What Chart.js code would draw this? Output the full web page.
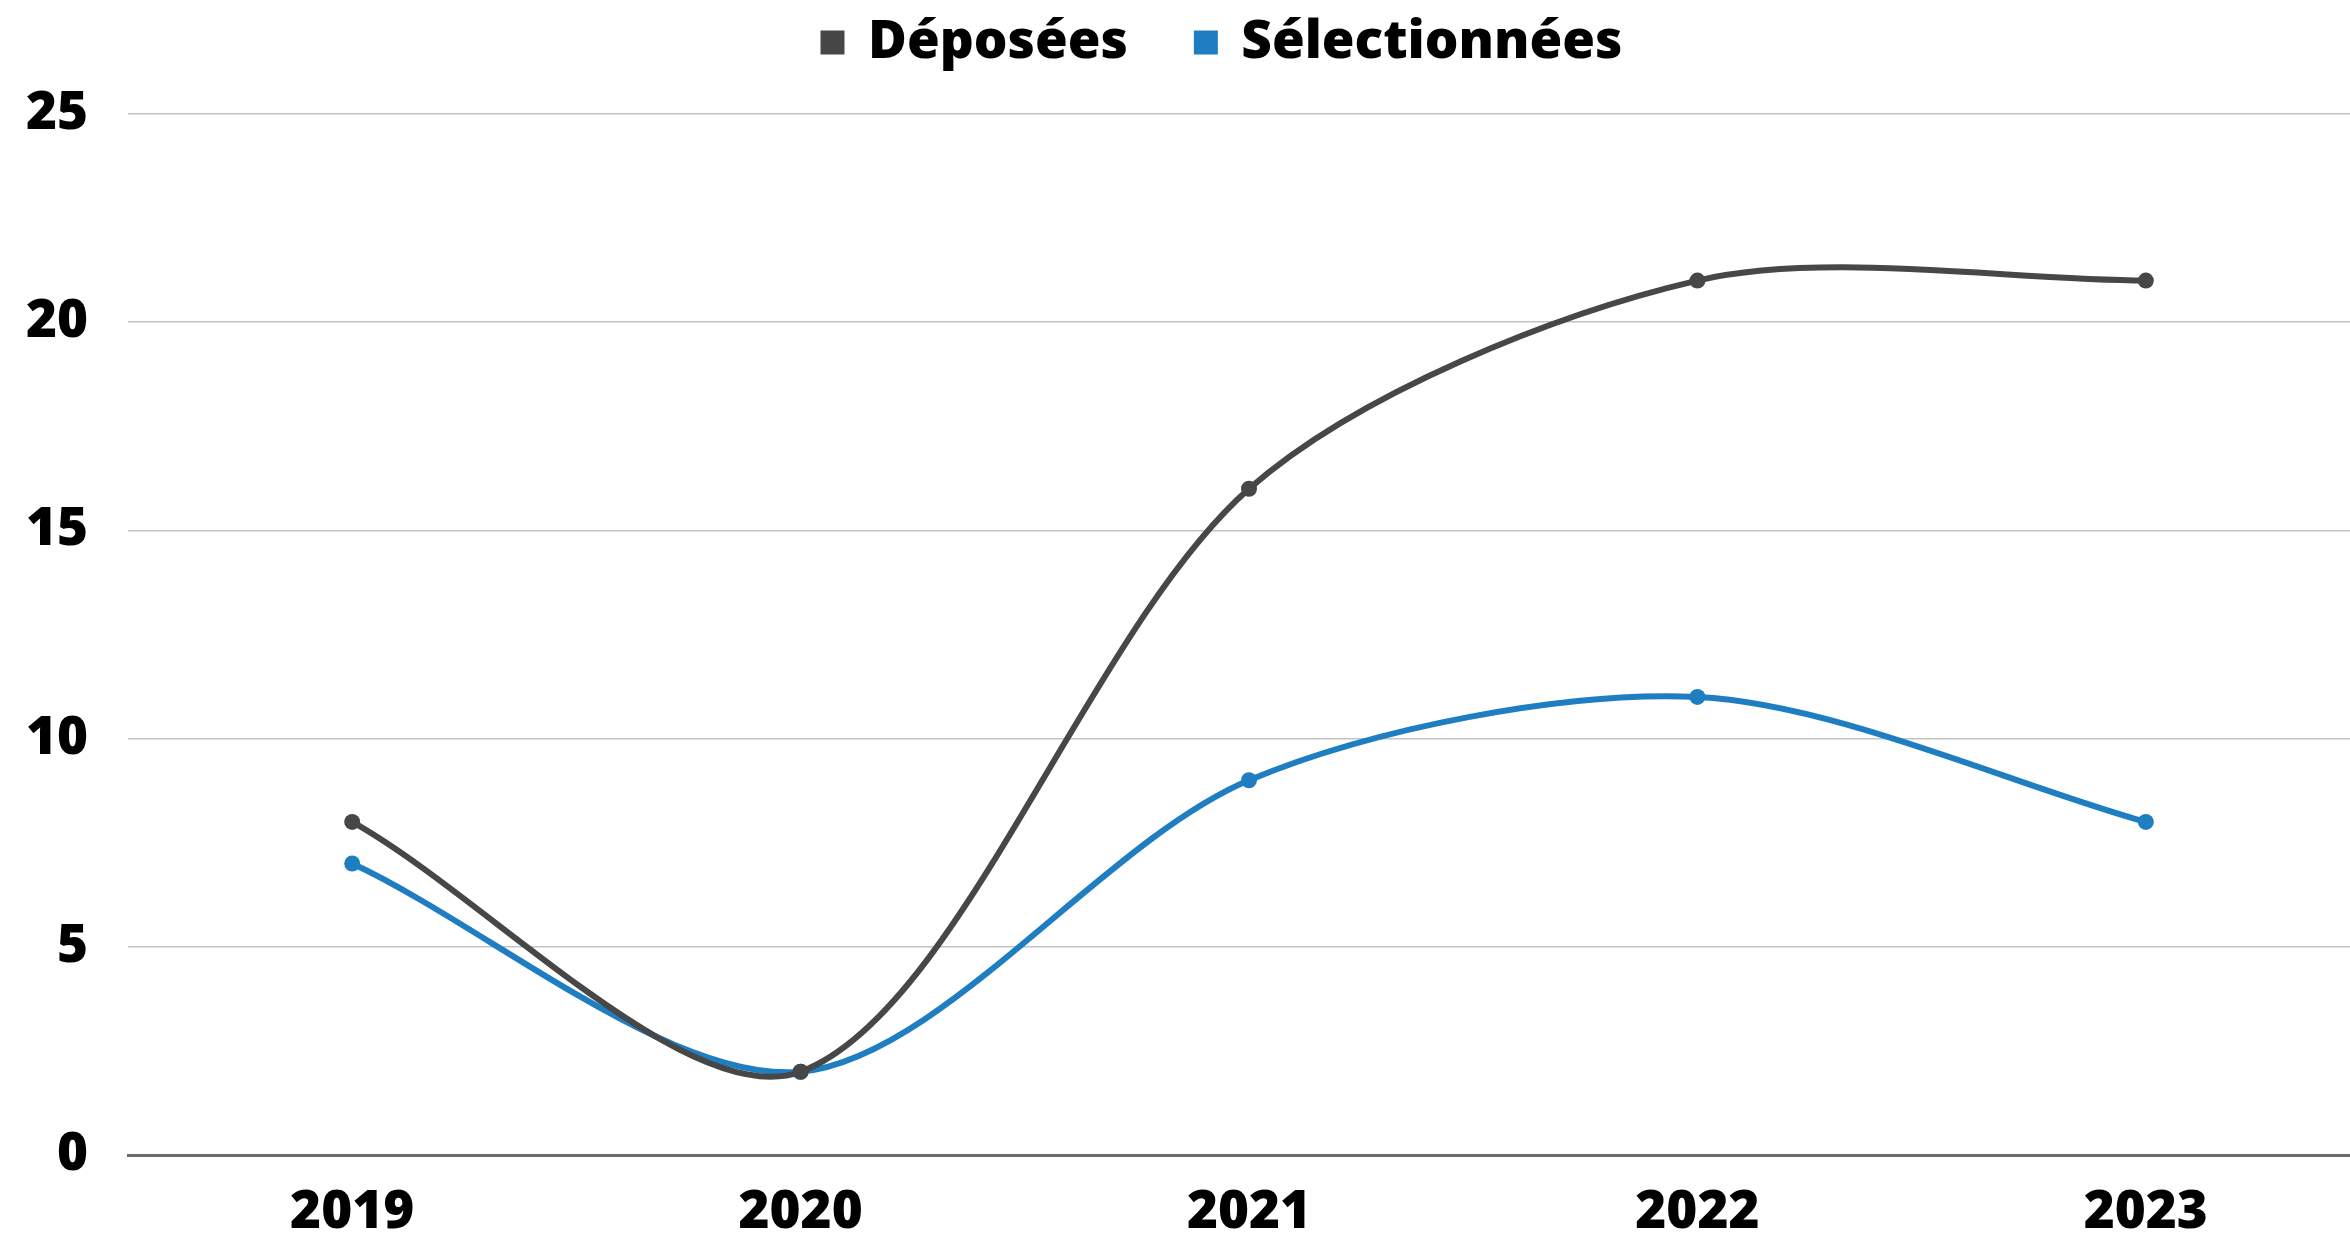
<!DOCTYPE html>
<html>
<head>
<meta charset="utf-8">
<script src="https://cdn.jsdelivr.net/npm/chart.js@4.4.1/dist/chart.umd.min.js"></script>
<style>
  html, body { margin: 0; padding: 0; background: #fff; overflow: hidden; }
  #wrap { position: absolute; left: 0; top: 0; width: 2446px; height: 1235px; }
</style>
</head>
<body>
<div id="wrap"><canvas id="graphique"></canvas></div>
<script>
const annees = ['2019', '2020', '2021', '2022', '2023'];
const deposees = [8, 2, 16, 21, 21];
const selectionnees = [7, 2, 9, 11, 8];
const ticksY = [0, 5, 10, 15, 20, 25];

const GRIS = '#474747';
const BLEU = '#1f7ec2';
const police = { family: '"Open Sans", "Noto Sans", sans-serif', weight: 800, size: 53 };

// espace supplémentaire sous la légende (comme dans l'original)
const espaceLegende = {
  id: 'espaceLegende',
  afterInit(chart) {
    const legende = chart.legend;
    if (!legende) return;
    const fitOrig = legende.fit;
    legende.fit = function() {
      fitOrig.call(this);
      this.height += 35;
    };
  }
};

const ctx = document.getElementById('graphique').getContext('2d');
new Chart(ctx, {
  type: 'line',
  plugins: [espaceLegende],
  data: {
    labels: annees,
    datasets: [
      {
        label: 'Déposées',
        data: deposees,
        borderColor: GRIS,
        backgroundColor: GRIS,
        borderWidth: 6,
        pointRadius: 8,
        pointBorderWidth: 0,
        tension: 0.3
      },
      {
        label: 'Sélectionnées',
        data: selectionnees,
        borderColor: BLEU,
        backgroundColor: BLEU,
        borderWidth: 6,
        pointRadius: 8,
        pointBorderWidth: 0,
        tension: 0.3
      }
    ]
  },
  options: {
    responsive: true,
    maintainAspectRatio: false,
    animation: false,
    layout: { padding: { top: -53 } },
    plugins: {
      legend: {
        position: 'top',
        labels: {
          color: '#000',
          font: police,
          boxWidth: 18,
          boxHeight: 18,
          padding: 69
        }
      },
      tooltip: { enabled: false }
    },
    scales: {
      x: {
        offset: true,
        grid: { display: false },
        border: { display: true, color: '#6b6b6b', width: 3 },
        ticks: { color: '#000', font: police, padding: 18 },
        afterFit: s => { s.height = 80; }
      },
      y: {
        min: 0,
        max: 25,
        afterBuildTicks: s => { s.ticks = ticksY.map(v => ({ value: v })); },
        grid: {
          drawTicks: false,
          color: c => (c.tick && c.tick.value === 0) ? '#6b6b6b' : '#c3c3c3',
          lineWidth: c => (c.tick && c.tick.value === 0) ? 3 : 1.5
        },
        border: { display: false },
        ticks: { color: '#000', font: police, padding: 40 },
        afterFit: s => { s.width = 128; }
      },
      // axe vide à droite pour garder la zone de tracé alignée comme l'original
      droite: {
        type: 'linear',
        position: 'right',
        grid: { display: false },
        border: { display: false },
        ticks: { display: false },
        afterFit: s => { s.width = 76; }
      }
    }
  }
});
</script>
</body>
</html>
